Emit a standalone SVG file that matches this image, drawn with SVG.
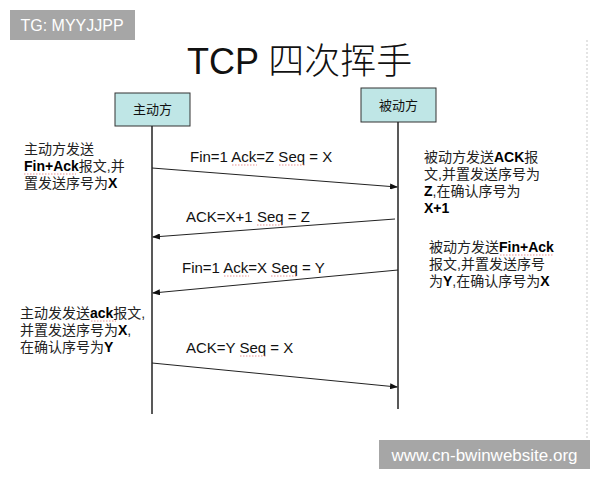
<svg xmlns="http://www.w3.org/2000/svg" width="600" height="480" viewBox="0 0 600 480">
<style>
.t{font-family:"Liberation Sans","Noto Sans CJK SC",Arial,sans-serif;fill:#111}
.lbl{font-size:15px;fill:#111}
.desc{font-size:14px;fill:#222}
.b{font-weight:bold;fill:#000}
.box{fill:#bfe6e6;stroke:#333;stroke-width:1}
.life{stroke:#222;stroke-width:1.5;fill:none}
.msg{stroke:#222;stroke-width:1;fill:none;marker-end:url(#ah)}
.wavy{stroke:#d66;stroke-width:0.7;fill:none;stroke-dasharray:1.5 1.5}
.badge{fill:#a6a6a6}
.bt{font-family:"Liberation Sans","Noto Sans",Arial,sans-serif;fill:#fff}
</style>
<defs>
<marker id="ah" markerWidth="8" markerHeight="6" refX="7" refY="3" orient="auto" markerUnits="userSpaceOnUse">
<path d="M0,0 L8,3 L0,6 z" fill="#111"/>
</marker>
</defs>
<rect width="600" height="480" fill="#fff"/>
<line x1="587" y1="40" x2="587" y2="440" stroke="#e4e4e4" stroke-width="2" stroke-dasharray="2 2"/>
<g id="badge-tg">
<rect class="badge" x="10" y="10" width="125" height="30"/>
<text class="bt" x="72" y="31" font-size="16" text-anchor="middle">TG: MYYJJPP</text>
</g>
<g id="title">
<text class="t" x="187" y="74" font-size="36">TCP <tspan font-family="Noto Sans CJK SC,sans-serif" font-weight="300">四次挥手</tspan></text>
</g>
<g id="client">
<rect class="box" x="115" y="93" width="75" height="33"/>
<text class="t" x="152.5" y="114" font-size="13" text-anchor="middle">主动方</text>
<line class="life" x1="152" y1="126" x2="152" y2="414"/>
</g>
<g id="server">
<rect class="box" x="361" y="88" width="75" height="34"/>
<text class="t" x="398.5" y="110" font-size="13" text-anchor="middle">被动方</text>
<line class="life" x1="398" y1="122" x2="398" y2="409"/>
</g>
<g id="connectors">
<line class="msg" x1="152" y1="168" x2="397" y2="187"/>
<line class="msg" x1="395" y1="219" x2="153" y2="237"/>
<line class="msg" x1="398" y1="270" x2="153" y2="293"/>
<line class="msg" x1="152" y1="363" x2="397" y2="387"/>
<text class="t lbl" x="190" y="162">Fin=1 Ack=Z Seq = X</text>
<text class="t lbl" x="186" y="222">ACK=X+1 Seq = Z</text>
<text class="t lbl" x="182" y="273">Fin=1 Ack=X Seq = Y</text>
<text class="t lbl" x="186" y="353">ACK=Y Seq = X</text>
<path class="wavy" d="M232,165 h25 M279,165 h27 M257,225 h27 M224,276 h25 M271,276 h27 M240,356 h27"/>
</g>
<g id="note-client-1">
<text class="t desc" x="24" y="154">主动方发送</text>
<text class="t desc" x="24" y="171"><tspan class="b">Fin+Ack</tspan>报文,并</text>
<text class="t desc" x="24" y="188">置发送序号为<tspan class="b">X</tspan></text>
<path class="wavy" d="M24,174 h52"/>
</g>
<g id="note-server-1">
<text class="t desc" x="424" y="162">被动方发送<tspan class="b">ACK</tspan>报</text>
<text class="t desc" x="424" y="179">文,并置发送序号为</text>
<text class="t desc" x="424" y="196"><tspan class="b">Z</tspan>,在确认序号为</text>
<text class="t desc b" x="424" y="213">X+1</text>
</g>
<g id="note-server-2">
<text class="t desc" x="429" y="252">被动方发送<tspan class="b">Fin+Ack</tspan></text>
<text class="t desc" x="429" y="269">报文,并置发送序号</text>
<text class="t desc" x="429" y="286">为<tspan class="b">Y</tspan>,在确认序号为<tspan class="b">X</tspan></text>
<path class="wavy" d="M500,255 h54"/>
</g>
<g id="note-client-2">
<text class="t desc" x="20" y="318">主动发发送<tspan class="b">ack</tspan>报文,</text>
<text class="t desc" x="20" y="335">并置发送序号为<tspan class="b">X</tspan>,</text>
<text class="t desc" x="20" y="352">在确认序号为<tspan class="b">Y</tspan></text>
<path class="wavy" d="M91,321 h25"/>
</g>
<g id="badge-url">
<rect class="badge" x="379" y="440" width="211" height="29"/>
<text class="bt" x="484.5" y="461" font-size="17" text-anchor="middle">www.cn-bwinwebsite.org</text>
</g>
</svg>
